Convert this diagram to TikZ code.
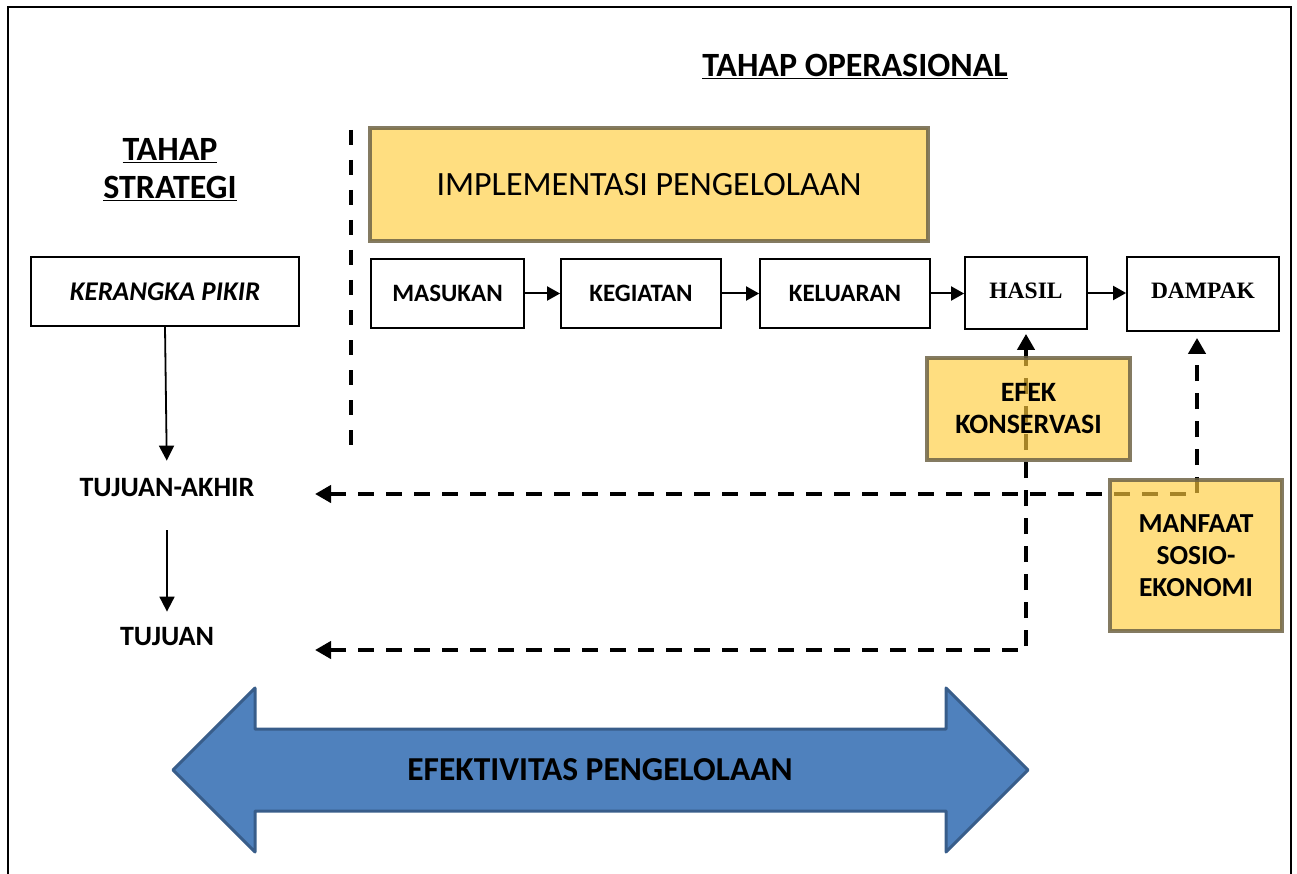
\documentclass[tikz,border=0pt]{standalone}
\usepackage{fontspec}
\setmainfont{Carlito}
\newfontfamily\timesf{Liberation Serif}
\usetikzlibrary{arrows.meta}
\definecolor{yel}{RGB}{255,204,60}
\definecolor{ybord}{RGB}{110,100,70}
\definecolor{blfill}{RGB}{79,129,189}
\definecolor{blbord}{RGB}{56,93,138}
\begin{document}
\begin{tikzpicture}[x=1pt,y=-1pt,
  wbox/.style={draw=black, line width=1.8pt, fill=white, inner sep=0pt,
    font=\fontsize{25}{30}\selectfont\bfseries},
  ybox/.style={draw=ybord, line width=4pt, fill=yel, fill opacity=0.65,
    draw opacity=0.85, text opacity=1, inner sep=0pt, align=center},
  lbl/.style={inner sep=0pt, font=\fontsize{28}{32}\selectfont\bfseries},
  hdr/.style={inner sep=0pt, anchor=base, align=center,
    font=\fontsize{34}{38}\selectfont\bfseries},
  rowarr/.style={line width=2pt, -{Triangle[length=13pt,width=14pt]}},
  varr/.style={line width=1.8pt, -{Triangle[length=15pt,width=15pt]}},
  darr/.style={line width=4pt, dash pattern=on 16pt off 12pt},
  dtip/.tip={Triangle[length=16pt,width=17pt]}
]
\useasboundingbox (0,0) rectangle (1297,874);
% frame
\draw[line width=2pt] (8,874) -- (8,7) -- (1291,7) -- (1291,874);

% headings
\node[hdr] (op) at (855,77) {\underline{TAHAP OPERASIONAL}};
\node[hdr] (st1) at (170,161) {\underline{TAHAP}};
\node[hdr] (st2) at (170,199) {\underline{STRATEGI}};

% separator
\coordinate (sepA) at (351,130);
\coordinate (sepB) at (351,445);
\draw[line width=3.5pt, dash pattern=on 15pt off 15pt] (sepA) -- (sepB);

% white boxes
\node[wbox, minimum width=268pt, minimum height=69pt,
  font=\fontsize{27}{30}\selectfont\bfseries\itshape] (kp) at (165,291.5)
  {KERANGKA PIKIR};
\node[wbox, minimum width=153pt, minimum height=69pt] (mas) at (447.5,293.5) {MASUKAN};
\node[wbox, minimum width=160pt, minimum height=69pt] (keg) at (641,293.5) {KEGIATAN};
\node[wbox, minimum width=170pt, minimum height=69pt] (kel) at (845,293.5) {KELUARAN};
\node[wbox, minimum width=122pt, minimum height=72pt,
  font=\fontsize{23.5}{26}\selectfont\timesf\bfseries] (has) at (1026,293)
  {\raisebox{4pt}{HASIL}};
\node[wbox, minimum width=152pt, minimum height=74pt,
  font=\fontsize{23.5}{26}\selectfont\timesf\bfseries] (dam) at (1203,294)
  {\raisebox{6pt}{DAMPAK}};

% row arrows
\draw[rowarr] (mas) -- (keg);
\draw[rowarr] (keg) -- (kel);
\draw[rowarr] (kel.east) -- (kel.east -| has.west);
\draw[rowarr] (has.east) -- (has.east -| dam.west);

% left column
\node[lbl] (ta) at (167,488) {TUJUAN-AKHIR};
\node[lbl] (tj) at (167,637) {TUJUAN};
\draw[varr, shorten >=18pt] (kp.south) -- (ta.north);
\draw[varr, shorten <=33pt, shorten >=16pt] (ta.south) -- (tj.north);

% dashed connectors
\coordinate (taIn) at (315,494);
\coordinate (tjIn) at (315,650);
\coordinate (cD) at (1197,494);
\coordinate (cH) at (1026,650);
\draw[darr, dtip-dtip, shorten >=6pt] (taIn) -- (cD) -- (cD |- dam.south);
\draw[darr, dtip-dtip, shorten >=4pt] (tjIn) -- (cH) -- (has.south);

% yellow boxes
\node[ybox, minimum width=558pt, minimum height=113pt,
  font=\fontsize{34}{38}\selectfont] (impl) at (649,184.5) {IMPLEMENTASI PENGELOLAAN};
\node[ybox, minimum width=203pt, minimum height=102pt,
  font=\fontsize{28}{32}\selectfont\bfseries] (efek) at (1028.5,409) {EFEK\\KONSERVASI};
\node[ybox, minimum width=172pt, minimum height=151pt,
  font=\fontsize{27.5}{32}\selectfont\bfseries] (manf) at (1196,555.5) {MANFAAT\\SOSIO-\\EKONOMI};

% big double arrow
\draw[fill=blfill, draw=blbord, line width=3pt, line join=round]
  (173,770) -- (255,688) -- (255,729) -- (946,729) -- (946,688) -- (1028,770)
  -- (946,852) -- (946,811) -- (255,811) -- (255,852) -- cycle;
\node[inner sep=0pt, font=\fontsize{33.5}{38}\selectfont\bfseries] (eff) at (600,770)
  {EFEKTIVITAS PENGELOLAAN};
\end{tikzpicture}
\end{document}
